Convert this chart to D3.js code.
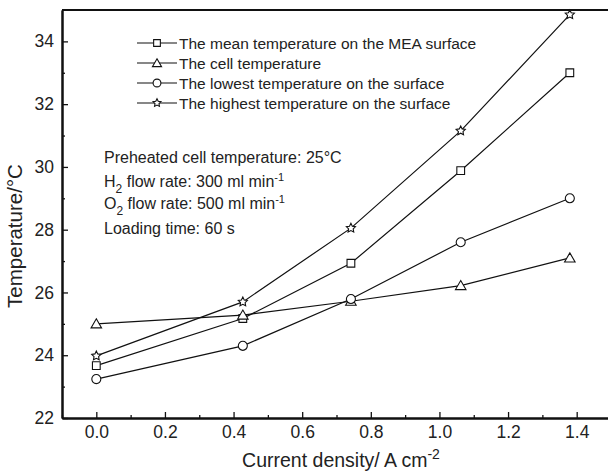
<!DOCTYPE html>
<html>
<head>
<meta charset="utf-8">
<script src="https://cdn.jsdelivr.net/npm/d3@7"></script>
<style>
  body { margin: 0; background: #fff; }
  svg { display: block; font-family: "Liberation Sans", Arial, sans-serif; }
</style>
</head>
<body>
<svg width="608" height="473"></svg>
<script>
// ---- Dados
const currentDensity = [0.0, 0.427, 0.742, 1.062, 1.38];
const meanTemp    = [23.67, 25.17, 26.93, 29.88, 33.0];
const cellTemp    = [25.0, 25.28, 25.72, 26.22, 27.1];
const lowestTemp  = [23.24, 24.3, 25.79, 27.6, 29.0];
const highestTemp = [23.98, 25.7, 28.05, 31.15, 34.85];

const seriesNames = [
  'The mean temperature on the MEA surface',
  'The cell temperature',
  'The lowest temperature on the surface',
  'The highest temperature on the surface'
];
const seriesSymbols = ['square', 'triangle', 'circle', 'star'];
const xTicks = [0.0, 0.2, 0.4, 0.6, 0.8, 1.0, 1.2, 1.4];
const xMinorTicks = [-0.1, 0.1, 0.3, 0.5, 0.7, 0.9, 1.1, 1.3];
const yTicks = [22, 24, 26, 28, 30, 32, 34];
const yMinorTicks = [23, 25, 27, 29, 31, 33];
const notes = [
  'Preheated cell temperature: 25°C',
  'H2 flow rate: 300 ml min-1',
  'O2 flow rate: 500 ml min-1',
  'Loading time: 60 s'
];

const margens = { left: 62, right: -3, top: 10, bottom: 55 };
const svg = d3.select('svg');
const svgWidth = 608, svgHeight = 473;
const innerWidth = svgWidth - margens.left - margens.right;
const innerHeight = svgHeight - margens.top - margens.bottom;

const g = svg.append('g')
  .attr('id', 'group')
  .attr('transform', `translate(${margens.left}, ${margens.top})`);

// ---- Escalas
const mapX = d3.scaleLinear().domain([-0.1, 1.5]).range([0, innerWidth]);
const mapY = d3.scaleLinear().domain([22, 35]).range([innerHeight, 0]);

// ---- Eixos (ticks para dentro)
const xAxis = d3.axisBottom(mapX).tickValues(xTicks).tickFormat(d3.format('.1f'))
  .tickSizeInner(-6).tickSizeOuter(0).tickPadding(8);
const xMinor = d3.axisBottom(mapX).tickValues(xMinorTicks)
  .tickFormat('').tickSizeInner(-3).tickSizeOuter(0);
const yAxis = d3.axisLeft(mapY).tickValues(yTicks).tickFormat(d3.format('d'))
  .tickSizeInner(-6).tickSizeOuter(0).tickPadding(8);
const yMinor = d3.axisLeft(mapY).tickValues(yMinorTicks)
  .tickFormat('').tickSizeInner(-3).tickSizeOuter(0);

function styleAxis(sel) {
  sel.selectAll('path').attr('stroke', '#111').attr('stroke-width', 2);
  sel.selectAll('line').attr('stroke', '#111').attr('stroke-width', 1.3);
  sel.selectAll('text').attr('fill', '#222').style('font-size', '17.5px');
}

g.append('g').attr('transform', `translate(0, ${innerHeight})`).call(xMinor).call(styleAxis)
  .selectAll('text').remove();
g.append('g').attr('transform', `translate(0, ${innerHeight})`).call(xAxis).call(styleAxis);
g.append('g').call(yMinor).call(styleAxis).selectAll('text').remove();
g.append('g').call(yAxis).call(styleAxis);

// borda superior
g.append('line')
  .attr('x1', 0).attr('x2', innerWidth)
  .attr('y1', 0).attr('y2', 0)
  .attr('stroke', '#111').attr('stroke-width', 2);

// ---- Símbolos
const starSymbol = {
  draw(context, size) {
    const R = Math.sqrt(size) * 0.62, r = R * 0.5;
    for (let k = 0; k < 10; k++) {
      const a = -Math.PI / 2 + k * Math.PI / 5;
      const rr = k % 2 ? r : R;
      const px = rr * Math.cos(a), py = rr * Math.sin(a);
      if (k === 0) context.moveTo(px, py); else context.lineTo(px, py);
    }
    context.closePath();
  }
};
const symbolMap = {
  square: d3.symbolSquare,
  triangle: d3.symbolTriangle,
  circle: d3.symbolCircle,
  star: starSymbol
};
const symbolSize = { square: 60, triangle: 48, circle: 64, star: 60 };

const seriesValues = [meanTemp, cellTemp, lowestTemp, highestTemp];
const line = d3.line().x(d => mapX(d.x)).y(d => mapY(d.y));

seriesValues.forEach((vals, i) => {
  const pts = vals.map((v, j) => ({ x: currentDensity[j], y: v }));
  const sym = seriesSymbols[i];
  g.append('path')
    .datum(pts)
    .attr('d', line)
    .attr('fill', 'none')
    .attr('stroke', '#111')
    .attr('stroke-width', 1.2);

  g.selectAll(`.pt-${sym}`)
    .data(pts)
    .join('path')
    .attr('class', `pt-${sym}`)
    .attr('transform', d => `translate(${mapX(d.x)}, ${mapY(d.y) + (sym === 'triangle' ? 1 : 0)})`)
    .attr('d', d3.symbol().type(symbolMap[sym]).size(symbolSize[sym]))
    .attr('fill', '#fff')
    .attr('stroke', '#111')
    .attr('stroke-width', 1.1);
});

// ---- Legenda
const legend = svg.append('g').attr('transform', 'translate(137, 43)');
seriesNames.forEach((name, i) => {
  const row = legend.append('g').attr('transform', `translate(0, ${i * 20})`);
  row.append('line').attr('x1', 0).attr('x2', 40).attr('y1', 0).attr('y2', 0)
    .attr('stroke', '#111').attr('stroke-width', 1.2);
  row.append('path')
    .attr('transform', `translate(20, ${seriesSymbols[i] === 'triangle' ? 1 : 0})`)
    .attr('d', d3.symbol().type(symbolMap[seriesSymbols[i]]).size(symbolSize[seriesSymbols[i]] * 0.75))
    .attr('fill', '#fff').attr('stroke', '#111').attr('stroke-width', 1.1);
  row.append('text')
    .attr('x', 42).attr('y', 5.5)
    .attr('fill', '#222')
    .style('font-size', '15.5px')
    .text(name);
});

// ---- Anotações
const noteG = svg.append('g').attr('transform', 'translate(104, 0)');
const noteY = [163, 187, 209, 234];
notes.forEach((t, i) => {
  const txt = noteG.append('text').attr('x', 0).attr('y', noteY[i])
    .attr('fill', '#222').style('font-size', '16px');
  const m = t.match(/^(H|O)2 (flow rate: \d+ ml min)-1$/);
  if (m) {
    txt.append('tspan').text(m[1]);
    txt.append('tspan').attr('dy', 6).style('font-size', '12px').text('2');
    txt.append('tspan').attr('dy', -6).text(' ' + m[2]);
    txt.append('tspan').attr('dy', -6).style('font-size', '11px').text('-1');
  } else {
    txt.text(t);
  }
});

// ---- Títulos dos eixos
const xTitle = svg.append('text')
  .attr('x', 341)
  .attr('y', 467)
  .attr('text-anchor', 'middle')
  .attr('fill', '#222')
  .style('font-size', '19.5px');
xTitle.append('tspan').text('Current density/ A cm');
xTitle.append('tspan').attr('dy', -8).style('font-size', '14px').text('-2');

svg.append('text')
  .attr('transform', `translate(22, 236) rotate(-90)`)
  .attr('text-anchor', 'middle')
  .attr('fill', '#222')
  .style('font-size', '20.5px')
  .text('Temperature/°C');
</script>
</body>
</html>
